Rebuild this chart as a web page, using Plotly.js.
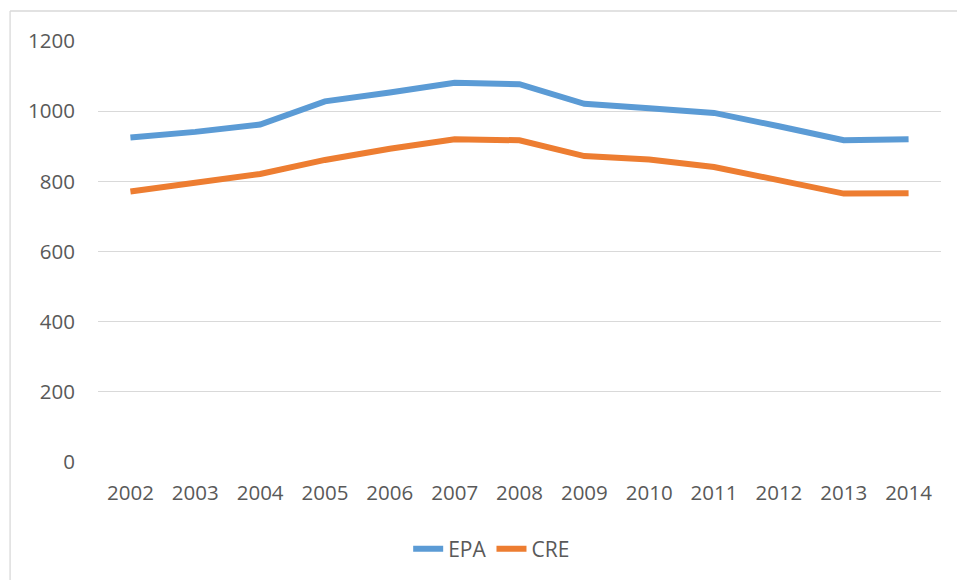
<!DOCTYPE html>
<html>
<head>
<meta charset="utf-8">
<script src="https://cdn.plot.ly/plotly-3.0.1.min.js"></script>
<style>html,body{margin:0;padding:0;background:#fff;} #chart{width:957px;height:580px;}</style>
</head>
<body>
<div id="chart"></div>
<script>
var years = ["2002","2003","2004","2005","2006","2007","2008","2009","2010","2011","2012","2013","2014"];
var epa = [925, 941, 962, 1028, 1053, 1081, 1077, 1021, 1008, 995, 957, 917, 920];
var cre = [771, 797, 821, 861, 893, 920, 917, 872, 862, 841, 805, 765, 766];
var seriesNames = ["EPA", "CRE"];
var yTicks = [0, 200, 400, 600, 800, 1000, 1200];

var traces = [
  {x: years, y: epa, name: seriesNames[0], type: "scatter", mode: "lines",
   line: {color: "#5B9BD5", width: 6}},
  {x: years, y: cre, name: seriesNames[1], type: "scatter", mode: "lines",
   line: {color: "#ED7D31", width: 6}}
];

var layout = {
  width: 957, height: 580,
  margin: {l: 98, r: 16, t: 41, b: 117},
  paper_bgcolor: "#ffffff", plot_bgcolor: "#ffffff",
  font: {family: "Open Sans, sans-serif", size: 20.5, color: "#595959"},
  showlegend: true,
  legend: {orientation: "h", x: 0.467, xanchor: "center", y: -0.204, yanchor: "middle",
           font: {size: 21, color: "#595959"}, traceorder: "normal"},
  xaxis: {type: "category", range: [-0.5, 12.5], showgrid: false, zeroline: false,
          showline: false, ticks: "", ticklabelstandoff: 16, fixedrange: true},
  yaxis: {range: [0, 1200], tickvals: yTicks, showgrid: true, gridcolor: "#D9D9D9", gridwidth: 1.3,
          zeroline: false, showline: false, ticks: "", ticklabelstandoff: 22, fixedrange: true},
  shapes: [
    {type: "line", xref: "paper", yref: "paper", x0: -0.1043, x1: -0.1043, y0: -0.3, y1: 1.0713,
     line: {color: "#D9D9D9", width: 1.3}},
    {type: "line", xref: "paper", yref: "paper", x0: -0.1043, x1: 1.03, y0: 1.0713, y1: 1.0713,
     line: {color: "#D9D9D9", width: 1.3}}
  ]
};

Plotly.newPlot("chart", traces, layout, {staticPlot: true, displayModeBar: false});
</script>
</body>
</html>
